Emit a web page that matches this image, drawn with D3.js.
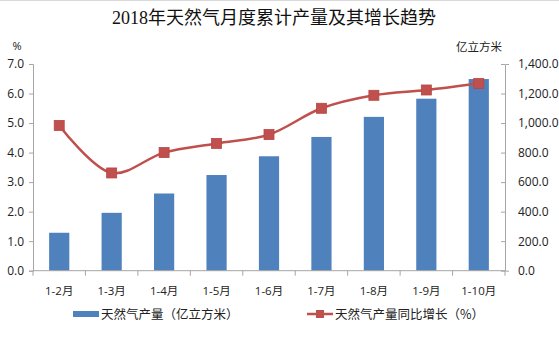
<!DOCTYPE html>
<html>
<head>
<meta charset="utf-8">
<script src="https://cdn.jsdelivr.net/npm/d3@7"></script>
<style>
  body { margin: 0; background: #fff; }
  svg { display: block; font-family: "Open Sans", "Noto Sans CJK SC", sans-serif; }
</style>
</head>
<body>
<div id="chart"></div>
<script>
const categories = ["1-2月", "1-3月", "1-4月", "1-5月", "1-6月", "1-7月", "1-8月", "1-9月", "1-10月"];
const output = [257, 392, 523, 648, 775, 906, 1042, 1165, 1298];
const growth = [4.92, 3.31, 4.0, 4.31, 4.61, 5.5, 5.94, 6.12, 6.34];
const leftTicks = [0, 1, 2, 3, 4, 5, 6, 7];
const rightTicks = [0, 200, 400, 600, 800, 1000, 1200, 1400];

const width = 559, height = 351;
const marginTop = 64, marginRight = 54, marginBottom = 81, marginLeft = 33;
const cjk = "'Noto Sans CJK SC', sans-serif";

const svg = d3.select("#chart").append("svg")
  .attr("width", width)
  .attr("height", height);

svg.append("line")
  .attr("x1", 0).attr("x2", width).attr("y1", 0.5).attr("y2", 0.5)
  .attr("stroke", "#d9d9d9");

const x = d3.scaleBand()
  .domain(categories)
  .range([marginLeft, width - marginRight]);

const yL = d3.scaleLinear().domain([0, 7]).range([height - marginBottom + 0.7, marginTop]);
const yR = d3.scaleLinear().domain([0, 1400]).range([height - marginBottom + 0.7, marginTop]);

// title
svg.append("text")
  .attr("x", 274).attr("y", 24)
  .attr("text-anchor", "middle")
  .attr("font-family", "'Liberation Serif', 'Noto Sans CJK SC', serif")
  .attr("font-size", 18)
  .attr("fill", "#111")
  .text("2018年天然气月度累计产量及其增长趋势");

svg.append("text")
  .attr("x", 17).attr("y", 50)
  .attr("text-anchor", "middle")
  .attr("font-size", 11).attr("fill", "#222")
  .text("%");

svg.append("text")
  .attr("x", 479).attr("y", 51)
  .attr("text-anchor", "middle")
  .attr("font-family", cjk)
  .attr("font-size", 11.5).attr("fill", "#222")
  .text("亿立方米");

// bars
const bw = x.bandwidth() * 0.385;
svg.append("g")
  .selectAll()
  .data(categories)
  .join("rect")
    .attr("x", (d) => x(d) + (x.bandwidth() - bw) / 2)
    .attr("y", (d, i) => yR(output[i]))
    .attr("width", bw)
    .attr("height", (d, i) => yR(0) - yR(output[i]))
    .attr("fill", "#4F81BD");

// left axis
svg.append("g")
  .attr("transform", `translate(${marginLeft},0)`)
  .call(d3.axisLeft(yL).tickValues(leftTicks).tickFormat(d3.format(".1f")).tickSize(4).tickPadding(5))
  .call(g => g.select(".domain").attr("stroke", "#a6a6a6"))
  .call(g => g.selectAll(".tick line").attr("stroke", "#a6a6a6"))
  .call(g => g.selectAll(".tick text").attr("font-size", 12).attr("fill", "#222")
    .attr("font-family", "'Open Sans', sans-serif"));

// right axis
svg.append("g")
  .attr("transform", `translate(${width - marginRight},0)`)
  .call(d3.axisRight(yR).tickValues(rightTicks).tickFormat(d3.format(",.1f")).tickSize(4).tickPadding(9))
  .call(g => g.select(".domain").attr("stroke", "#a6a6a6"))
  .call(g => g.selectAll(".tick line").attr("stroke", "#a6a6a6").attr("x2", -4))
  .call(g => g.selectAll(".tick text").attr("font-size", 12).attr("fill", "#222")
    .attr("font-family", "'Open Sans', sans-serif"));

// bottom axis
const bottom = svg.append("g")
  .attr("transform", `translate(0,${yL(0)})`);
bottom.append("line")
  .attr("x1", marginLeft).attr("x2", width - marginRight)
  .attr("stroke", "#a6a6a6");
bottom.selectAll(".sep")
  .data(categories.concat([null]))
  .join("line")
    .attr("x1", (d, i) => marginLeft + i * x.step())
    .attr("x2", (d, i) => marginLeft + i * x.step())
    .attr("y1", 0).attr("y2", 5)
    .attr("stroke", "#a6a6a6");
bottom.selectAll(".lab")
  .data(categories)
  .join("text")
    .attr("x", d => x(d) + x.bandwidth() / 2)
    .attr("y", 24)
    .attr("text-anchor", "middle")
    .attr("font-size", 11.5)
    .attr("fill", "#222")
    .text(d => d);

// growth line
const line = d3.line()
  .x((d, i) => x(categories[i]) + x.bandwidth() / 2)
  .y(d => yL(d))
  .curve(d3.curveCatmullRom.alpha(0.5));

svg.append("path")
  .datum(growth)
  .attr("d", line)
  .attr("fill", "none")
  .attr("stroke", "#C0504D")
  .attr("stroke-width", 2.5);

svg.append("g")
  .selectAll()
  .data(growth)
  .join("rect")
    .attr("x", (d, i) => x(categories[i]) + x.bandwidth() / 2 - 5)
    .attr("y", d => yL(d) - 5)
    .attr("width", 10).attr("height", 10)
    .attr("fill", "#C0504D")
    .attr("stroke", "#b84542")
    .attr("stroke-width", 0.8);

// legend
const leg = svg.append("g").attr("font-family", cjk).attr("font-size", 12.5).attr("fill", "#222");
leg.append("rect")
  .attr("x", 73).attr("y", 311).attr("width", 26).attr("height", 6)
  .attr("fill", "#4F81BD");
leg.append("text")
  .attr("x", 101).attr("y", 318.5)
  .text("天然气产量（亿立方米）");
leg.append("line")
  .attr("x1", 307).attr("x2", 333).attr("y1", 314).attr("y2", 314)
  .attr("stroke", "#C0504D").attr("stroke-width", 2.5);
leg.append("rect")
  .attr("x", 316).attr("y", 310).attr("width", 8).attr("height", 8)
  .attr("fill", "#C0504D");
leg.append("text")
  .attr("x", 335).attr("y", 318.5)
  .text("天然气产量同比增长（%）");
</script>
</body>
</html>
